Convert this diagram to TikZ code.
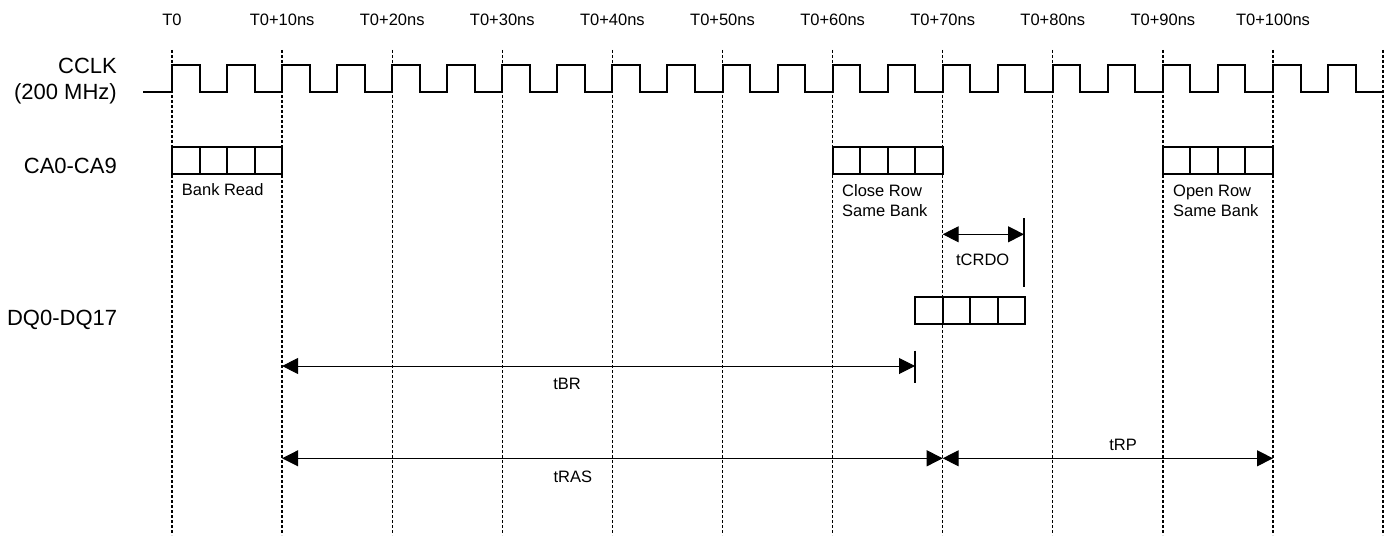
\documentclass[tikz,border=0pt]{standalone}
\usepackage{fontspec}
\setmainfont{Liberation Sans}
\usetikzlibrary{arrows.meta}
\begin{document}
\begin{tikzpicture}[x=1pt,y=-1pt,
  gridline/.style={line width=1.3pt, dash pattern=on 3pt off 2pt},
  wave/.style={line width=2pt, line join=miter},
  cell/.style={draw, line width=2pt, minimum width=27.5pt, minimum height=27.5pt,
               inner sep=0pt, outer sep=0pt, anchor=north west},
  biglabel/.style={font=\fontsize{22}{26.2}\selectfont, inner sep=0pt, align=right},
  smalllabel/.style={font=\fontsize{16.5}{19.5}\selectfont, inner sep=0pt},
  boxnote/.style={smalllabel, align=left, anchor=base west},
  span/.style={line width=1pt, {Triangle[length=16pt,width=16pt]}-{Triangle[length=16pt,width=16pt]}},
  endbar/.style={line width=2pt}
]
\useasboundingbox (0,0) rectangle (1389,540);

% time grid, one line every 10 ns
\foreach \k in {0,...,11} {
  \coordinate (g\k) at (172+110.1*\k,50);
  \coordinate (b\k) at (172+110.1*\k,535);
  \draw[gridline] (g\k) -- (b\k);
}
\foreach \k/\t in {0/T0,1/T0+10ns,2/T0+20ns,3/T0+30ns,4/T0+40ns,5/T0+50ns,
                   6/T0+60ns,7/T0+70ns,8/T0+80ns,9/T0+90ns,10/T0+100ns} {
  \node[smalllabel, anchor=base] (t\k) at (172+110.1*\k,26) {\t};
}

% signal names (multi-line nodes sit on the baseline of their last line)
\node[biglabel, anchor=base east] (cclk) at (117,99.5) {CCLK\\(200 MHz)};
\node[biglabel, anchor=base east] (ca) at (117,174) {CA0-CA9};
\node[biglabel, anchor=base east] (dq) at (117.3,325) {DQ0-DQ17};

% 200 MHz clock, 5 ns period
\draw[wave] (143,92.3) -- (172,92.3)
  \foreach \k in {0,...,21} { -- ++(0,-27.3) -- ++(27.525,0) -- ++(0,27.3) -- ++(27.525,0) };

% command bursts on CA0-CA9
\foreach \n/\x in {br/172, cr/832.6, or/1162.9} {
  \foreach \i in {0,...,3} {
    \node[cell] (\n\i) at (\x+27.525*\i,146.7) {};
  }
}
\node[boxnote] (brl) at (181.7,195.5) {Bank Read};
\node[boxnote] (crl) at (842,216) {Close Row\\Same Bank};
\node[boxnote] (orl) at (1173,216) {Open Row\\Same Bank};

% data burst on DQ0-DQ17
\foreach \i in {0,...,3} {
  \node[cell] (dq\i) at (915.2+27.525*\i,296.8) {};
}

% tCRDO
\coordinate (crdoA) at (942.7,234.3);
\coordinate (crdoB) at (1024,234.3);
\coordinate (crdoT) at (1024,218.3);
\coordinate (crdoU) at (1024,287.3);
\draw[endbar] (crdoT) -- (crdoU);
\draw[span] (crdoA) -- (crdoB);
\node[smalllabel, anchor=base] (crdo) at (982.7,265) {tCRDO};

% tBR
\coordinate (brA) at (282.1,366);
\coordinate (brB) at (915,366);
\coordinate (brT) at (915,350.7);
\coordinate (brU) at (915,383.3);
\draw[endbar] (brT) -- (brU);
\draw[span] (brA) -- (brB);
\node[smalllabel, anchor=base] (tbr) at (567,389) {tBR};

% tRAS and tRP
\coordinate (rasA) at (282.1,458.3);
\coordinate (rasB) at (942.7,458.3);
\coordinate (rpB) at (1273,458.3);
\draw[span] (rasA) -- (rasB);
\draw[span] (rasB) -- (rpB);
\node[smalllabel, anchor=base] (tras) at (572.8,482.3) {tRAS};
\node[smalllabel, anchor=base] (trp) at (1123,450) {tRP};
\end{tikzpicture}
\end{document}
